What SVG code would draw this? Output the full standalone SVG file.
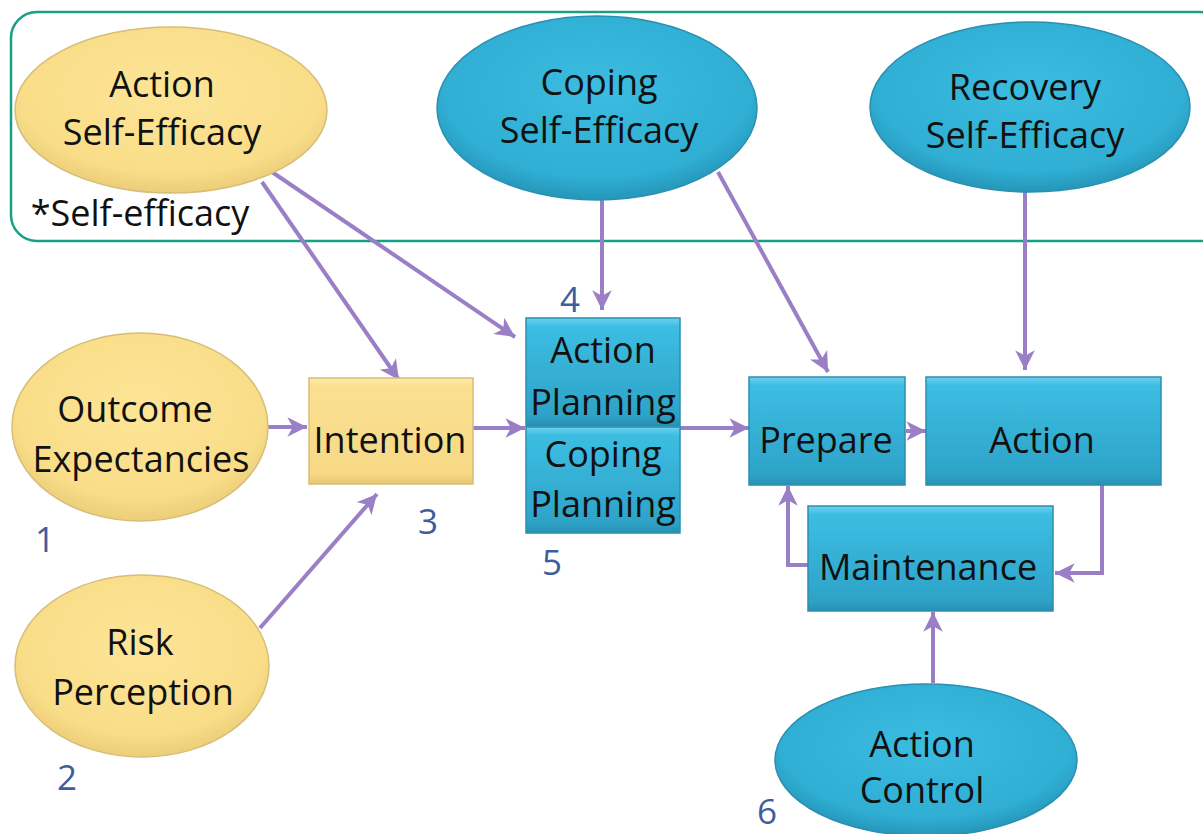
<svg xmlns="http://www.w3.org/2000/svg" width="1203" height="834" viewBox="0 0 1203 834">
<defs>
<style>
.t{font-family:"Open Sans","Liberation Sans",sans-serif;font-size:36px;fill:#111;text-anchor:middle}
.n{font-family:"Open Sans","Liberation Sans",sans-serif;font-size:35px;fill:#3d5d9e;text-anchor:middle}
.y{fill:url(#gy);stroke:#d6bd78;stroke-width:1.5}
.b{fill:url(#gb);stroke:#2a8fb0;stroke-width:1.5}
.br{fill:url(#gbr);stroke:#2a8fb0;stroke-width:1.5}
.yr{fill:url(#gyr);stroke:#d6bd78;stroke-width:1.5}
.c{fill:none;stroke:#9a7fc6;stroke-width:4;marker-end:url(#ah)}
</style>
<radialGradient id="gy" cx="50%" cy="40%" r="60%">
<stop offset="0" stop-color="#fde597"/>
<stop offset="0.8" stop-color="#f9dd88"/>
<stop offset="1" stop-color="#eccd79"/>
</radialGradient>
<radialGradient id="gb" cx="50%" cy="40%" r="60%">
<stop offset="0" stop-color="#3bbce0"/>
<stop offset="0.8" stop-color="#30aed4"/>
<stop offset="1" stop-color="#2596b8"/>
</radialGradient>
<linearGradient id="gbr" x1="0" y1="0" x2="0" y2="1">
<stop offset="0" stop-color="#6fd2ee"/>
<stop offset="0.08" stop-color="#3dbde2"/>
<stop offset="0.9" stop-color="#2ea3c8"/>
<stop offset="1" stop-color="#2690b2"/>
</linearGradient>
<linearGradient id="gyr" x1="0" y1="0" x2="0" y2="1">
<stop offset="0" stop-color="#fdeaa8"/>
<stop offset="0.08" stop-color="#fbe092"/>
<stop offset="0.9" stop-color="#f7d985"/>
<stop offset="1" stop-color="#e6c777"/>
</linearGradient>
<marker id="ah" markerUnits="userSpaceOnUse" markerWidth="24" markerHeight="24" viewBox="0 0 22 22" refX="20" refY="11" orient="auto">
<path d="M2,2 L20,11 L2,20 L7,11 Z" fill="#9a7fc6"/>
</marker>
</defs>
<rect width="1203" height="834" fill="#ffffff"/>
<rect id="selfefficacy-group" x="11" y="12" width="1214" height="229" rx="26" ry="26" fill="none" stroke="#16a085" stroke-width="2.5"/>
<text class="t" x="140" y="226">*Self-efficacy</text>

<g id="connectors">
<line class="c" x1="268" y1="427" x2="307" y2="427"/>
<line class="c" x1="473" y1="428" x2="525" y2="428"/>
<line class="c" x1="680" y1="428" x2="749" y2="428"/>
<line class="c" x1="906" y1="431" x2="926" y2="431"/>
<line class="c" x1="262" y1="182" x2="399" y2="380"/>
<line class="c" x1="272" y1="172" x2="515" y2="337"/>
<line class="c" x1="602" y1="200" x2="602" y2="310"/>
<line class="c" x1="718" y1="172" x2="828" y2="372"/>
<line class="c" x1="1025" y1="192" x2="1025" y2="370"/>
<line class="c" x1="260" y1="628" x2="377" y2="494"/>
<polyline class="c" points="1102,485 1102,573 1055,573"/>
<polyline class="c" points="808,565 788,565 788,486"/>
<line class="c" x1="933" y1="683" x2="933" y2="612"/>
</g>

<g id="action-self-efficacy">
<ellipse class="y" cx="171" cy="110" rx="156" ry="83"/>
<text class="t" x="162" y="97">Action</text>
<text class="t" x="162" y="145">Self-Efficacy</text>
</g>
<g id="coping-self-efficacy">
<ellipse class="b" cx="597" cy="108" rx="160" ry="92"/>
<text class="t" x="599" y="95">Coping</text>
<text class="t" x="599" y="143">Self-Efficacy</text>
</g>
<g id="recovery-self-efficacy">
<ellipse class="b" cx="1030" cy="107" rx="160" ry="85"/>
<text class="t" x="1025" y="100">Recovery</text>
<text class="t" x="1025" y="148">Self-Efficacy</text>
</g>
<g id="outcome-expectancies">
<ellipse class="y" cx="140" cy="427" rx="128" ry="94"/>
<text class="t" x="135" y="422">Outcome</text>
<text class="t" x="141" y="472">Expectancies</text>
</g>
<g id="risk-perception">
<ellipse class="y" cx="142" cy="666" rx="127" ry="91"/>
<text class="t" x="140" y="655">Risk</text>
<text class="t" x="143" y="705">Perception</text>
</g>
<g id="intention">
<rect class="yr" x="309" y="378" width="164" height="106"/>
<text class="t" x="390" y="453">Intention</text>
</g>
<g id="action-planning">
<rect class="br" x="526" y="318" width="154" height="108"/>
<text class="t" x="603" y="363">Action</text>
<text class="t" x="603" y="415">Planning</text>
</g>
<g id="coping-planning">
<rect class="br" x="526" y="427" width="154" height="106"/>
<text class="t" x="603" y="467">Coping</text>
<text class="t" x="603" y="517">Planning</text>
</g>
<g id="prepare">
<rect class="br" x="749" y="377" width="156" height="108"/>
<text class="t" x="826" y="453">Prepare</text>
</g>
<g id="action">
<rect class="br" x="926" y="377" width="235" height="108"/>
<text class="t" x="1042" y="453">Action</text>
</g>
<g id="maintenance">
<rect class="br" x="808" y="506" width="245" height="105"/>
<text class="t" x="928" y="580">Maintenance</text>
</g>
<g id="action-control">
<ellipse class="b" cx="926" cy="760" rx="151" ry="76"/>
<text class="t" x="922" y="757">Action</text>
<text class="t" x="922" y="803">Control</text>
</g>

<g id="numbers">
<text class="n" x="45" y="552">1</text>
<text class="n" x="67" y="790">2</text>
<text class="n" x="428" y="534">3</text>
<text class="n" x="570" y="312">4</text>
<text class="n" x="552" y="575">5</text>
<text class="n" x="767" y="824">6</text>
</g>
</svg>
